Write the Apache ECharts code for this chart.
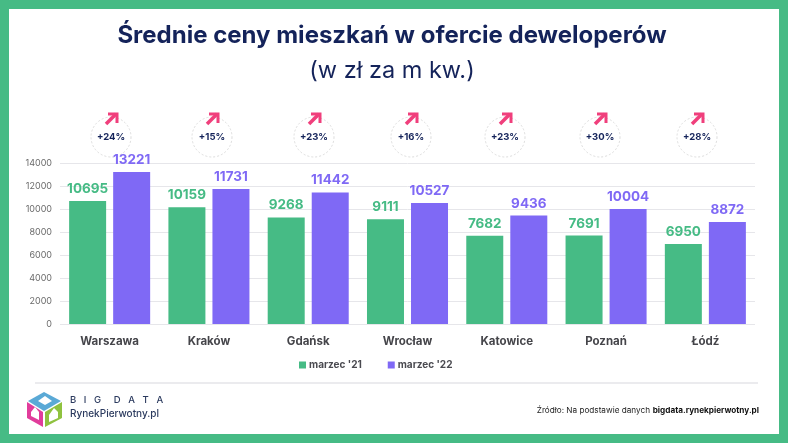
<!DOCTYPE html>
<html>
<head>
<meta charset="utf-8">
<style>
html, body { margin: 0; padding: 0; background: #fff; }
#chart { width: 788px; height: 443px; }
</style>
<script src="https://cdn.jsdelivr.net/npm/echarts@6/dist/echarts.min.js"></script>
</head>
<body>
<div id="chart"></div>
<script>
var cities = ['Warszawa', 'Kraków', 'Gdańsk', 'Wrocław', 'Katowice', 'Poznań', 'Łódź'];
var march21 = [10695, 10159, 9268, 9111, 7682, 7691, 6950];
var march22 = [13221, 11731, 11442, 10527, 9436, 10004, 8872];
var changes = ['+24%', '+15%', '+23%', '+16%', '+23%', '+30%', '+28%'];
var changeX = [111, 212, 314, 411, 505, 600, 697];

var FONT = 'Inter, "Noto Sans", sans-serif';
var GREEN = '#46bb85';
var PURPLE = '#7f69f5';
var NAVY = '#14235a';
var PINK = '#f03f7c';

var myChart = echarts.init(document.getElementById('chart'));

// kółka ze strzałkami nad słupkami
var badges = [];
changes.forEach(function (txt, i) {
    var x = changeX[i];
    badges.push({
        type: 'circle',
        shape: { cx: x, cy: 137, r: 20 },
        style: { fill: 'none', stroke: '#dddddd', lineWidth: 1, lineDash: [2, 2] }
    });
    badges.push({
        type: 'polyline',
        shape: { points: [[x - 5, 124], [x + 5, 114]] },
        style: { stroke: PINK, lineWidth: 3.5, fill: 'none' }
    });
    badges.push({
        type: 'polyline',
        shape: { points: [[x - 3, 114], [x + 6, 114], [x + 6, 123]] },
        style: { stroke: PINK, lineWidth: 3, fill: 'none' }
    });
    badges.push({
        type: 'text',
        style: { x: x, y: 137, text: txt, fill: NAVY, font: '700 9.5px ' + FONT, textAlign: 'center', textVerticalAlign: 'middle' }
    });
});

// logo
var logo = [
    { type: 'polygon', shape: { points: [[28, 401], [44, 392], [61, 401], [44, 411]] }, style: { fill: '#5aa9d6' } },
    { type: 'polygon', shape: { points: [[27, 402], [43, 412], [43, 427], [27, 418]] }, style: { fill: '#e13c9b' } },
    { type: 'polygon', shape: { points: [[45, 412], [62, 402], [62, 418], [45, 427]] }, style: { fill: '#8fc23f' } },
    { type: 'polygon', shape: { points: [[38, 401], [45, 396], [52, 401], [45, 405]] }, style: { fill: '#fff' } },
    { type: 'polygon', shape: { points: [[31, 412], [35, 407], [39, 412], [39, 420], [31, 416]] }, style: { fill: '#fff' } },
    { type: 'polygon', shape: { points: [[49, 415], [54, 408], [58, 412], [58, 418], [49, 422]] }, style: { fill: '#fff' } }
];

var option = {
    backgroundColor: '#fff',
    animation: false,
    color: [GREEN, PURPLE],
    textStyle: { fontFamily: FONT },
    grid: { left: 60, right: 33, top: 163, bottom: 119 },
    legend: {
        top: 360,
        left: 299,
        padding: 0,
        itemWidth: 7,
        itemHeight: 7,
        itemGap: 26,
        icon: 'rect',
        textStyle: { color: '#4a4a50', fontSize: 10, fontWeight: 700, fontFamily: FONT, padding: [0, 0, 0, -2] }
    },
    xAxis: {
        type: 'category',
        data: cities,
        axisLine: { show: false },
        axisTick: { show: false },
        axisLabel: { color: '#45454a', fontSize: 11.5, fontWeight: 700, margin: 12 }
    },
    yAxis: {
        type: 'value',
        min: 0,
        max: 14000,
        interval: 2000,
        axisLine: { show: false },
        axisTick: { show: false },
        axisLabel: { color: '#6a6a6a', fontSize: 9, margin: 8, formatter: function (v) { return String(v); } },
        splitLine: { lineStyle: { color: '#e6e6ea', width: 1 } }
    },
    series: [{
        name: "marzec '21",
        type: 'bar',
        data: march21,
        barWidth: 37,
        barGap: '19%',
        itemStyle: { color: GREEN },
        label: { show: true, position: 'top', distance: 5, color: GREEN, fontSize: 13.5, fontWeight: 700 }
    }, {
        name: "marzec '22",
        type: 'bar',
        data: march22,
        barWidth: 37,
        itemStyle: { color: PURPLE },
        label: { show: true, position: 'top', distance: 5, color: PURPLE, fontSize: 13.5, fontWeight: 700 }
    }],
    graphic: [
        // zielona ramka
        { type: 'rect', shape: { x: 4.5, y: 4.5, width: 779, height: 434 }, style: { fill: 'none', stroke: GREEN, lineWidth: 9 }, z: 10 },
        { type: 'text', style: { x: 392, y: 36, text: 'Średnie ceny mieszkań w ofercie deweloperów', fill: NAVY, font: '700 24px ' + FONT, textAlign: 'center', textVerticalAlign: 'middle' } },
        { type: 'text', style: { x: 392, y: 71, text: '(w zł za m kw.)', fill: NAVY, font: '400 23.5px ' + FONT, textAlign: 'center', textVerticalAlign: 'middle' } },
        { type: 'line', shape: { x1: 35, y1: 383, x2: 758, y2: 383 }, style: { stroke: '#e4e4e8', lineWidth: 1.5 } },
        { type: 'text', style: { x: 70, y: 400, text: 'B   I   G     D   A   T   A', fill: '#2b3a5e', font: '500 9.5px ' + FONT, textVerticalAlign: 'middle' } },
        { type: 'text', style: { x: 70, y: 414, text: 'RynekPierwotny.pl', fill: '#2b3a5e', font: '500 10px ' + FONT, textVerticalAlign: 'middle' } },
        { type: 'text', style: { x: 759, y: 411, text: 'bigdata.rynekpierwotny.pl', fill: '#111', font: '700 8.2px ' + FONT, textAlign: 'right', textVerticalAlign: 'middle' } },
        { type: 'text', style: { x: 650, y: 411, text: 'Źródło: Na podstawie danych', fill: '#222', font: '400 8.2px ' + FONT, textAlign: 'right', textVerticalAlign: 'middle' } }
    ].concat(badges, logo)
};
myChart.setOption(option);
</script>
</body>
</html>
